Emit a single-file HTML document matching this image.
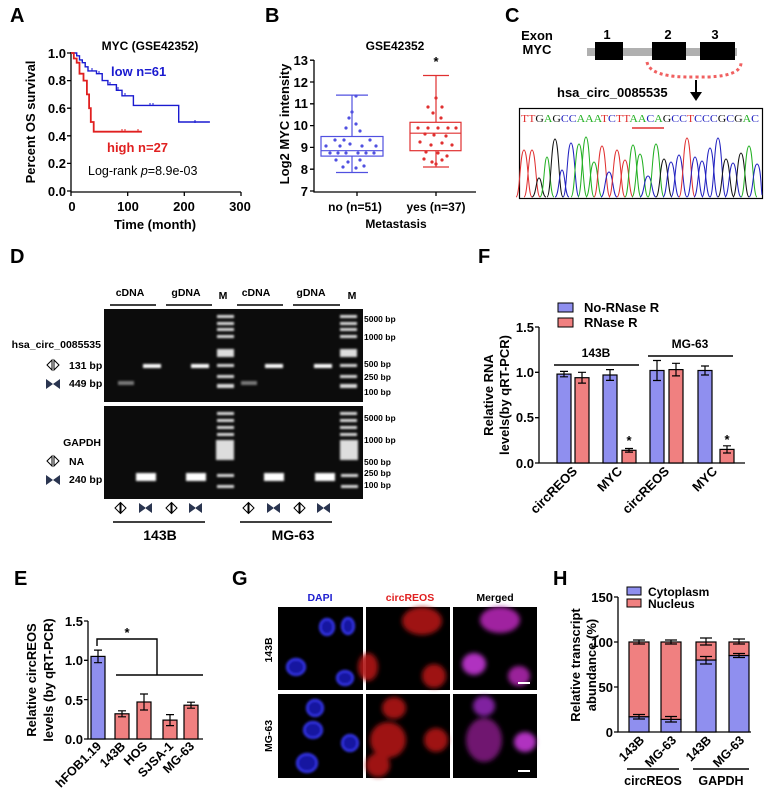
<!DOCTYPE html>
<html><head><meta charset="utf-8"><style>
body{margin:0;background:#fff}
svg{display:block;font-family:"Liberation Sans",Arial,sans-serif;font-weight:bold}
</style></head><body>
<svg width="768" height="801" viewBox="0 0 768 801" xmlns="http://www.w3.org/2000/svg">
<defs>
<filter id="bl"><feGaussianBlur stdDeviation="1"/></filter>
<filter id="bl2"><feGaussianBlur stdDeviation="2.5"/></filter>
<filter id="bl3"><feGaussianBlur stdDeviation="1.3"/></filter>
</defs>
<rect width="768" height="801" fill="#fff"/>
<g font-size="20" fill="#000">
<text x="10" y="22">A</text><text x="265" y="22">B</text><text x="505" y="22">C</text>
<text x="10" y="263">D</text><text x="478" y="263">F</text>
<text x="14" y="585">E</text><text x="232" y="585">G</text><text x="553" y="585">H</text>
</g>

<!-- Panel A -->
<g stroke="#000" stroke-width="1.3" fill="none">
<path d="M71 52 V192 H241"/>
<path d="M67 53H71M67 80.6H71M67 108.2H71M67 135.8H71M67 163.4H71M67 191H71"/>
<path d="M71 192v4M127.7 192v4M184.3 192v4M241 192v4"/>
</g>
<g font-size="13" text-anchor="end"><text x="66" y="58">1.0</text><text x="66" y="85">0.8</text><text x="66" y="113">0.6</text><text x="66" y="141">0.4</text><text x="66" y="168">0.2</text><text x="66" y="196">0.0</text></g>
<g font-size="13" text-anchor="middle"><text x="72" y="211">0</text><text x="128" y="211">100</text><text x="184" y="211">200</text><text x="240" y="211">300</text>
<text x="155" y="229">Time (month)</text><text x="150" y="50" font-size="12">MYC  (GSE42352)</text></g>
<text font-size="13" text-anchor="middle" transform="translate(35,122) rotate(-90)">Percent OS survival</text>
<path d="M71 53 H76.7 V55.8 H79.5 V59.9 H82.3 V62.7 H85.2 V66.8 H88 V70.9 H96.5 V73.7 H102.2 V80.6 H107.9 V84.7 H116.4 V90.3 H122 V95.8 H133.4 V105.4 H178.7 V122 H209.9" stroke="#1a1ad0" stroke-width="1.4" fill="none"/>
<path d="M92 68v3M99 71v3M110 82v3M118 87v3M125 93v3M150 103v3M153 103v3M195 120v3" stroke="#1a1ad0" stroke-width="1"/>
<path d="M71 53 H73.8 V58.5 H76.7 V62.7 H79.5 V73.7 H83.5 V80.6 H86.9 V94.4 H89.1 V108.2 H90.8 V122 H93.7 V131.7 H141.9" stroke="#e02020" stroke-width="1.8" fill="none"/>
<path d="M122 129v3M125 129v3M138 129v3" stroke="#e02020" stroke-width="1"/>
<text x="111" y="76" font-size="13" fill="#1a1ad0">low  n=61</text>
<text x="107" y="152" font-size="13" fill="#e02020">high  n=27</text>
<text x="88" y="175" font-size="12.5" font-weight="normal">Log-rank <tspan font-style="italic">p</tspan>=8.9e-03</text>

<!-- Panel B -->
<g stroke="#000" stroke-width="1.3" fill="none">
<path d="M314 60 V192 H476"/>
<path d="M310 60.2H314M310 82H314M310 103.8H314M310 125.6H314M310 147.4H314M310 169.2H314M310 191H314"/>
<path d="M357 192v4M436 192v4"/>
</g>
<g font-size="13" text-anchor="end"><text x="308" y="65">13</text><text x="308" y="87">12</text><text x="308" y="108">11</text><text x="308" y="130">10</text><text x="308" y="152">9</text><text x="308" y="174">8</text><text x="308" y="196">7</text></g>
<g font-size="12" text-anchor="middle"><text x="355" y="211">no (n=51)</text><text x="436" y="211">yes (n=37)</text><text x="396" y="228">Metastasis</text><text x="395" y="50">GSE42352</text><text x="436" y="66" font-size="13">*</text></g>
<text font-size="13" text-anchor="middle" transform="translate(289,124) rotate(-90)">Log2 MYC intensity</text>
<g stroke="#5050e0" stroke-width="1.2" fill="none">
<rect x="321" y="136.5" width="62" height="19.6"/><path d="M321 150.7H383M352 136.5V95.1M352 156.1V172.5M336 95.1H368M336 172.5H368"/>
</g>
<g fill="#5050e0">
<circle cx="356" cy="96" r="1.6"/><circle cx="352" cy="112" r="1.6"/><circle cx="349" cy="118" r="1.6"/><circle cx="356" cy="124" r="1.6"/><circle cx="346" cy="128" r="1.6"/><circle cx="360" cy="131" r="1.6"/><circle cx="335" cy="140" r="1.6"/><circle cx="344" cy="140" r="1.6"/><circle cx="370" cy="140" r="1.6"/><circle cx="326" cy="146" r="1.6"/><circle cx="340" cy="146" r="1.6"/><circle cx="350" cy="144" r="1.6"/><circle cx="362" cy="146" r="1.6"/><circle cx="376" cy="146" r="1.6"/><circle cx="330" cy="153" r="1.6"/><circle cx="338" cy="153" r="1.6"/><circle cx="346" cy="153" r="1.6"/><circle cx="358" cy="153" r="1.6"/><circle cx="366" cy="153" r="1.6"/><circle cx="374" cy="153" r="1.6"/><circle cx="336" cy="160" r="1.6"/><circle cx="348" cy="162" r="1.6"/><circle cx="360" cy="160" r="1.6"/><circle cx="343" cy="167" r="1.6"/><circle cx="356" cy="168" r="1.6"/><circle cx="364" cy="166" r="1.6"/>
</g>
<g stroke="#e03030" stroke-width="1.2" fill="none">
<rect x="410" y="122.3" width="51" height="28.4"/><path d="M410 133.2H461M436 122.3V75.5M436 150.7V167M423 75.5H449M423 167H449"/>
</g>
<g fill="#e03030">
<circle cx="436" cy="98" r="1.6"/><circle cx="428" cy="107" r="1.6"/><circle cx="442" cy="107" r="1.6"/><circle cx="433" cy="113" r="1.6"/><circle cx="441" cy="118" r="1.6"/><circle cx="418" cy="128" r="1.6"/><circle cx="428" cy="128" r="1.6"/><circle cx="438" cy="128" r="1.6"/><circle cx="448" cy="128" r="1.6"/><circle cx="456" cy="128" r="1.6"/><circle cx="425" cy="134" r="1.6"/><circle cx="434" cy="135" r="1.6"/><circle cx="446" cy="136" r="1.6"/><circle cx="420" cy="142" r="1.6"/><circle cx="431" cy="145" r="1.6"/><circle cx="442" cy="143" r="1.6"/><circle cx="452" cy="145" r="1.6"/><circle cx="426" cy="152" r="1.6"/><circle cx="438" cy="153" r="1.6"/><circle cx="447" cy="156" r="1.6"/><circle cx="424" cy="159" r="1.6"/><circle cx="432" cy="162" r="1.6"/><circle cx="436" cy="164" r="1.6"/><circle cx="442" cy="160" r="1.6"/>
</g>

<!-- Panel C -->
<text x="537" y="40" font-size="13" text-anchor="middle">Exon</text>
<text x="537" y="54" font-size="13" text-anchor="middle">MYC</text>
<rect x="587" y="48" width="150" height="8" fill="#b0b0b0"/>
<rect x="595" y="42" width="28" height="18" fill="#000"/><rect x="652" y="42" width="34" height="18" fill="#000"/><rect x="700" y="42" width="35" height="18" fill="#000"/>
<g font-size="13" text-anchor="middle"><text x="607" y="39">1</text><text x="668" y="39">2</text><text x="715" y="39">3</text></g>
<path d="M647 62 Q650 78 696 77 Q742 78 741 62" stroke="#f06060" stroke-width="3" stroke-dasharray="3,3" fill="none"/>
<path d="M696 80 V95" stroke="#000" stroke-width="2"/><path d="M690 92 L696 101 L702 92 Z" fill="#000"/>
<text x="557" y="97" font-size="13">hsa_circ_0085535</text>
<rect x="519.5" y="108.5" width="243" height="90" fill="#fff" stroke="#000" stroke-width="1.2"/>
<text x="521" y="122" font-family="Liberation Serif,serif" font-weight="normal" font-size="10.3" textLength="238" lengthAdjust="spacingAndGlyphs"><tspan fill="#e03030">TT</tspan><tspan fill="#111">G</tspan><tspan fill="#22b022">A</tspan><tspan fill="#111">G</tspan><tspan fill="#2020c0">CC</tspan><tspan fill="#22b022">AAA</tspan><tspan fill="#e03030">T</tspan><tspan fill="#2020c0">C</tspan><tspan fill="#e03030">TT</tspan><tspan fill="#22b022">AA</tspan><tspan fill="#2020c0">C</tspan><tspan fill="#22b022">A</tspan><tspan fill="#111">G</tspan><tspan fill="#2020c0">CC</tspan><tspan fill="#e03030">T</tspan><tspan fill="#2020c0">CCC</tspan><tspan fill="#111">G</tspan><tspan fill="#2020c0">C</tspan><tspan fill="#111">G</tspan><tspan fill="#22b022">A</tspan><tspan fill="#2020c0">C</tspan></text>
<path d="M632 128 H664" stroke="#e03030" stroke-width="1.5"/>
<g fill="none" stroke-width="1">
<path d="M516 197 C520 197,520 150,524 150 C528 150,528 197,532 197" stroke="#e03030"/>
<path d="M524 197 C528 197,528 150,532 150 C536 150,536 197,540 197" stroke="#e03030"/>
<path d="M532 197 C536 197,536 178,539 178 C542 178,542 197,546 197" stroke="#111"/>
<path d="M540 197 C544 197,544 157,547 157 C550 157,550 197,554 197" stroke="#22b022"/>
<path d="M547 197 C551 197,551 139,555 139 C559 139,559 197,563 197" stroke="#111"/>
<path d="M555 197 C559 197,559 170,562 170 C565 170,565 197,569 197" stroke="#2020c0"/>
<path d="M563 197 C567 197,567 143,571 143 C575 143,575 197,579 197" stroke="#2020c0"/>
<path d="M571 197 C575 197,575 144,579 144 C583 144,583 197,587 197" stroke="#22b022"/>
<path d="M578 197 C582 197,582 137,586 137 C590 137,590 197,594 197" stroke="#22b022"/>
<path d="M586 197 C590 197,590 162,594 162 C598 162,598 197,602 197" stroke="#22b022"/>
<path d="M594 197 C598 197,598 146,602 146 C606 146,606 197,610 197" stroke="#e03030"/>
<path d="M601 197 C605 197,605 172,609 172 C613 172,613 197,617 197" stroke="#2020c0"/>
<path d="M609 197 C613 197,613 150,617 150 C621 150,621 197,625 197" stroke="#e03030"/>
<path d="M617 197 C621 197,621 160,625 160 C629 160,629 197,633 197" stroke="#e03030"/>
<path d="M625 197 C629 197,629 145,633 145 C637 145,637 197,641 197" stroke="#22b022"/>
<path d="M632 197 C636 197,636 154,640 154 C644 154,644 197,648 197" stroke="#22b022"/>
<path d="M640 197 C644 197,644 176,648 176 C652 176,652 197,656 197" stroke="#2020c0"/>
<path d="M648 197 C652 197,652 144,656 144 C660 144,660 197,664 197" stroke="#22b022"/>
<path d="M656 197 C660 197,660 159,664 159 C668 159,668 197,672 197" stroke="#111"/>
<path d="M663 197 C667 197,667 162,671 162 C675 162,675 197,679 197" stroke="#2020c0"/>
<path d="M671 197 C675 197,675 155,679 155 C683 155,683 197,687 197" stroke="#2020c0"/>
<path d="M679 197 C683 197,683 138,687 138 C691 138,691 197,695 197" stroke="#e03030"/>
<path d="M687 197 C691 197,691 157,695 157 C699 157,699 197,703 197" stroke="#2020c0"/>
<path d="M694 197 C698 197,698 161,702 161 C706 161,706 197,710 197" stroke="#2020c0"/>
<path d="M702 197 C706 197,706 148,710 148 C714 148,714 197,718 197" stroke="#2020c0"/>
<path d="M710 197 C714 197,714 138,718 138 C722 138,722 197,726 197" stroke="#2020c0"/>
<path d="M718 197 C722 197,722 159,726 159 C730 159,730 197,734 197" stroke="#111"/>
<path d="M725 197 C729 197,729 163,733 163 C737 163,737 197,741 197" stroke="#2020c0"/>
<path d="M733 197 C737 197,737 153,741 153 C745 153,745 197,749 197" stroke="#111"/>
<path d="M741 197 C745 197,745 146,749 146 C753 146,753 197,757 197" stroke="#22b022"/>
<path d="M749 197 C753 197,753 164,757 164 C761 164,761 190,762 195" stroke="#2020c0"/>
</g>

<!-- Panel D -->
<g font-size="10.5" text-anchor="middle"><text x="130" y="296">cDNA</text><text x="186" y="296">gDNA</text><text x="223" y="299">M</text><text x="256" y="296">cDNA</text><text x="311" y="296">gDNA</text><text x="352" y="299">M</text></g>
<path d="M110 305H156M166 305H212M237 305H283M293 305H340" stroke="#000" stroke-width="1.5"/>
<rect x="104" y="309" width="259" height="93" fill="#0c0c0c"/>
<rect x="104" y="406" width="259" height="93" fill="#0c0c0c"/>
<g fill="#fff" filter="url(#bl)">
<rect x="118" y="381" width="16" height="4" opacity="0.45"/><rect x="143" y="364" width="18" height="4"/><rect x="191" y="364" width="18" height="4"/>
<rect x="241" y="381" width="16" height="4" opacity="0.45"/><rect x="265" y="364" width="18" height="4"/><rect x="314" y="364" width="18" height="4"/>
<rect x="136" y="473" width="20" height="8"/><rect x="186" y="473" width="20" height="8"/><rect x="264" y="473" width="20" height="8"/><rect x="315" y="473" width="20" height="8"/>
</g>
<g fill="#ddd" filter="url(#bl)">
<rect x="217" y="315" width="17" height="3"/><rect x="217" y="322" width="17" height="3"/><rect x="217" y="328" width="17" height="3"/><rect x="217" y="335" width="17" height="3"/><rect x="217" y="349" width="17" height="8"/><rect x="217" y="364" width="17" height="3"/><rect x="217" y="375" width="17" height="3"/><rect x="217" y="384" width="17" height="4"/>
<rect x="340" y="315" width="17" height="3"/><rect x="340" y="322" width="17" height="3"/><rect x="340" y="328" width="17" height="3"/><rect x="340" y="335" width="17" height="3"/><rect x="340" y="349" width="17" height="8"/><rect x="340" y="364" width="17" height="3"/><rect x="340" y="375" width="17" height="3"/><rect x="340" y="384" width="17" height="4"/>
<rect x="217" y="412" width="17" height="3"/><rect x="217" y="419" width="17" height="3"/><rect x="217" y="426" width="17" height="3"/><rect x="217" y="433" width="17" height="3"/><rect x="216" y="440" width="18" height="20"/><rect x="217" y="474" width="17" height="3"/><rect x="217" y="485" width="17" height="3"/>
<rect x="340" y="412" width="17" height="3"/><rect x="340" y="419" width="17" height="3"/><rect x="340" y="426" width="17" height="3"/><rect x="340" y="433" width="17" height="3"/><rect x="340" y="440" width="18" height="20"/><rect x="341" y="474" width="17" height="3"/><rect x="341" y="485" width="17" height="3"/>
</g>
<g font-size="8.5"><text x="364" y="322">5000 bp</text><text x="364" y="340">1000 bp</text><text x="364" y="367">500 bp</text><text x="364" y="380">250 bp</text><text x="364" y="395">100 bp</text>
<text x="364" y="421">5000 bp</text><text x="364" y="443">1000 bp</text><text x="364" y="465">500 bp</text><text x="364" y="476">250 bp</text><text x="364" y="488">100 bp</text></g>
<g font-size="10.5" text-anchor="end"><text x="101" y="348">hsa_circ_0085535</text><text x="101" y="446">GAPDH</text></g>
<g font-size="10.5"><text x="69" y="369">131 bp</text><text x="69" y="387">449 bp</text><text x="69" y="465">NA</text><text x="69" y="483">240 bp</text></g>
<g fill="none" stroke="#000" stroke-width="1"><path d="M47 365 l5 -5 v10 Z M59 365 l-5 -5 v10 Z"/></g>
<g fill="#2a3550"><path d="M46 379 l7 5 l-7 5 Z M60 379 l-7 5 l7 5 Z"/></g>
<g fill="none" stroke="#000" stroke-width="1"><path d="M47 461 l5 -5 v10 Z M59 461 l-5 -5 v10 Z"/></g>
<g fill="#2a3550"><path d="M46 475 l7 5 l-7 5 Z M60 475 l-7 5 l7 5 Z"/></g>
<g fill="none" stroke="#000" stroke-width="1">
<path d="M115 508 l5 -5 v10 Z M126 508 l-5 -5 v10 Z"/><path d="M166 508 l5 -5 v10 Z M177 508 l-5 -5 v10 Z"/>
<path d="M243 508 l5 -5 v10 Z M254 508 l-5 -5 v10 Z"/><path d="M294 508 l5 -5 v10 Z M305 508 l-5 -5 v10 Z"/>
</g>
<g fill="#2a3550">
<path d="M139 503 l7 5 l-7 5 Z M152 503 l-7 5 l7 5 Z"/><path d="M189 503 l7 5 l-7 5 Z M202 503 l-7 5 l7 5 Z"/>
<path d="M267 503 l7 5 l-7 5 Z M280 503 l-7 5 l7 5 Z"/><path d="M317 503 l7 5 l-7 5 Z M330 503 l-7 5 l7 5 Z"/>
</g>
<path d="M113 522H205M240 522H332" stroke="#000" stroke-width="1.5"/>
<g font-size="14" text-anchor="middle"><text x="160" y="540">143B</text><text x="293" y="540">MG-63</text></g>

<!-- Panel F -->
<rect x="558" y="303" width="15" height="9" fill="#8f8fef" stroke="#000"/><rect x="558" y="318" width="15" height="9" fill="#f08080" stroke="#000"/>
<text x="584" y="312" font-size="13">No-RNase R</text><text x="584" y="327" font-size="13">RNase R</text>
<g stroke="#000" stroke-width="1.3" fill="none"><path d="M539 327 V463 H745"/><path d="M535 327H539M535 372.3H539M535 417.7H539M535 463H539"/></g>
<g font-size="13" text-anchor="end"><text x="534" y="332">1.5</text><text x="534" y="377">1.0</text><text x="534" y="422">0.5</text><text x="534" y="468">0.0</text></g>
<text font-size="13" text-anchor="middle" transform="translate(493,395) rotate(-90)">Relative RNA</text>
<text font-size="13" text-anchor="middle" transform="translate(509,395) rotate(-90)">levels(by qRT-PCR)</text>
<g stroke="#000" stroke-width="1.2">
<rect x="557" y="374.1" width="14" height="88.9" fill="#8f8fef"/><rect x="575" y="377.7" width="14" height="85.3" fill="#f08080"/>
<rect x="603" y="375" width="14" height="88" fill="#8f8fef"/><rect x="622" y="450.3" width="14" height="12.7" fill="#f08080"/>
<rect x="650" y="370.5" width="14" height="92.5" fill="#8f8fef"/><rect x="669" y="369.6" width="14" height="93.4" fill="#f08080"/>
<rect x="698" y="370.5" width="14" height="92.5" fill="#8f8fef"/><rect x="720" y="449.4" width="14" height="13.6" fill="#f08080"/>
<path fill="none" d="M564 371.4V376.8M560 371.4H568M560 376.8H568M582 372.3V383.1M578 372.3H586M578 383.1H586M610 369.6V380.4M606 369.6H614M606 380.4H614M629 448.5V452.1M625 448.5H633M625 452.1H633M657 360.5V380.5M653 360.5H661M653 380.5H661M676 363.3V375.9M672 363.3H680M672 375.9H680M705 366V375M701 366H709M701 375H709M727 445.8V453M723 445.8H731M723 453H731"/>
<path d="M554 365H639M648 356H733" stroke-width="1.5"/>
</g>
<g font-size="12" text-anchor="middle"><text x="596" y="357">143B</text><text x="690" y="348">MG-63</text><text x="629" y="445" font-size="13">*</text><text x="727" y="444" font-size="13">*</text></g>
<g font-size="13" text-anchor="end">
<text transform="translate(578,472) rotate(-45)">circREOS</text><text transform="translate(623,472) rotate(-45)">MYC</text>
<text transform="translate(670,472) rotate(-45)">circREOS</text><text transform="translate(718,472) rotate(-45)">MYC</text>
</g>

<!-- Panel E -->
<g stroke="#000" stroke-width="1.3" fill="none"><path d="M88 621 V739 H203"/><path d="M84 621H88M84 660.3H88M84 699.6H88M84 739H88"/></g>
<g font-size="13" text-anchor="end"><text x="83" y="626">1.5</text><text x="83" y="665">1.0</text><text x="83" y="705">0.5</text><text x="83" y="744">0.0</text></g>
<text font-size="13" text-anchor="middle" transform="translate(36,680) rotate(-90)">Relative circREOS</text>
<text font-size="13" text-anchor="middle" transform="translate(53,680) rotate(-90)">levels (by qRT-PCR)</text>
<g stroke="#000" stroke-width="1.2">
<rect x="91" y="656.4" width="14" height="82.6" fill="#8f8fef"/><rect x="115" y="713.8" width="14" height="25.2" fill="#f08080"/><rect x="137" y="702" width="14" height="37" fill="#f08080"/><rect x="163" y="720.1" width="14" height="18.9" fill="#f08080"/><rect x="184" y="705.2" width="14" height="33.8" fill="#f08080"/>
<path fill="none" d="M98 650.1V662.7M94 650.1H102M94 662.7H102M122 710.8V716.8M118 710.8H126M118 716.8H126M144 694V710M140 694H148M140 710H148M170 714.6V725.6M166 714.6H174M166 725.6H174M191 702.2V708.2M187 702.2H195M187 708.2H195"/>
<path fill="none" stroke-width="1.4" d="M97 646V639H157V675M116 675H203"/>
</g>
<text x="127" y="637" font-size="13" text-anchor="middle">*</text>
<g font-size="12.5" text-anchor="end">
<text transform="translate(102,747) rotate(-45)">hFOB1.19</text><text transform="translate(126,747) rotate(-45)">143B</text><text transform="translate(148,747) rotate(-45)">HOS</text><text transform="translate(174,747) rotate(-45)">SJSA-1</text><text transform="translate(195,747) rotate(-45)">MG-63</text>
</g>

<!-- Panel G -->
<g font-size="10.5" text-anchor="middle"><text x="320" y="601" fill="#2020d0">DAPI</text><text x="410" y="601" fill="#e02020">circREOS</text><text x="495" y="601">Merged</text></g>
<text font-size="10.5" text-anchor="middle" transform="translate(272,650) rotate(-90)">143B</text>
<text font-size="10.5" text-anchor="middle" transform="translate(272,736) rotate(-90)">MG-63</text>
<rect x="278" y="607" width="85" height="83" fill="#000"/><rect x="366" y="607" width="84" height="83" fill="#000"/><rect x="453" y="607" width="84" height="83" fill="#000"/>
<rect x="278" y="694" width="85" height="84" fill="#000"/><rect x="366" y="694" width="84" height="84" fill="#000"/><rect x="453" y="694" width="84" height="84" fill="#000"/>
<g fill="#1818a0" stroke="#3a3aff" stroke-width="2" filter="url(#bl3)">
<ellipse cx="327" cy="627" rx="7" ry="8"/><ellipse cx="348" cy="626" rx="6" ry="8"/><ellipse cx="296" cy="667" rx="9" ry="8"/><ellipse cx="345" cy="678" rx="8" ry="7"/>
<ellipse cx="315" cy="708" rx="8" ry="8"/><ellipse cx="313" cy="730" rx="9" ry="8"/><ellipse cx="350" cy="743" rx="8" ry="8"/><ellipse cx="307" cy="763" rx="10" ry="9"/>
</g>
<g fill="#b01515" filter="url(#bl2)" opacity="0.9">
<ellipse cx="422" cy="621" rx="20" ry="14"/><ellipse cx="368" cy="667" rx="10" ry="14"/><ellipse cx="434" cy="676" rx="12" ry="12"/>
<ellipse cx="394" cy="708" rx="12" ry="11"/><ellipse cx="388" cy="740" rx="18" ry="18"/><ellipse cx="436" cy="740" rx="12" ry="12"/><ellipse cx="378" cy="765" rx="12" ry="12"/>
</g>
<g filter="url(#bl2)">
<ellipse cx="500" cy="620" rx="20" ry="13" fill="#a020a0"/><ellipse cx="474" cy="664" rx="12" ry="11" fill="#b030c0"/><ellipse cx="519" cy="676" rx="11" ry="10" fill="#9a209a"/>
<ellipse cx="484" cy="706" rx="11" ry="10" fill="#8020a0"/><ellipse cx="484" cy="740" rx="18" ry="22" fill="#701870"/><ellipse cx="525" cy="742" rx="11" ry="10" fill="#b030c0"/>
</g>
<path d="M518 683H530M518 771H530" stroke="#fff" stroke-width="2"/>

<!-- Panel H -->
<rect x="627" y="587" width="14" height="8" fill="#8f8fef" stroke="#000"/><rect x="627" y="599" width="14" height="8" fill="#f08080" stroke="#000"/>
<text x="648" y="596" font-size="12">Cytoplasm</text><text x="648" y="608" font-size="12">Nucleus</text>
<g stroke="#000" stroke-width="1.3" fill="none"><path d="M618 597 V732 H751"/><path d="M614 597H618M614 642H618M614 687H618M614 732H618"/></g>
<g font-size="13" text-anchor="end"><text x="613" y="602">150</text><text x="613" y="647">100</text><text x="613" y="692">50</text><text x="613" y="737">0</text></g>
<text font-size="13" text-anchor="middle" transform="translate(580,665) rotate(-90)">Relative transcript</text>
<text font-size="13" text-anchor="middle" transform="translate(596,665) rotate(-90)">abundance (%)</text>
<g stroke="#000" stroke-width="1.2">
<rect x="629" y="716.7" width="20" height="15.3" fill="#8f8fef"/><rect x="629" y="642" width="20" height="74.7" fill="#f08080"/>
<rect x="661" y="719.4" width="20" height="12.6" fill="#8f8fef"/><rect x="661" y="642" width="20" height="77.4" fill="#f08080"/>
<rect x="696" y="660" width="20" height="72" fill="#8f8fef"/><rect x="696" y="642" width="20" height="18" fill="#f08080"/>
<rect x="729" y="655.5" width="20" height="76.5" fill="#8f8fef"/><rect x="729" y="642" width="20" height="13.5" fill="#f08080"/>
<path fill="none" d="M633 640H645M633 644H645M639 640V644M633 714.5H645M633 719H645M639 714.5V719M665 640H677M665 644H677M671 640V644M665 716.5H677M665 722H677M671 716.5V722M700 638H712M700 645H712M706 638V645M700 656.5H712M700 664H712M706 656.5V664M733 639H745M733 644H745M739 639V644M733 653.5H745M733 657.5H745M739 653.5V657.5"/>
<path d="M627 769H679M693 769H749" stroke-width="1.5"/>
</g>
<g font-size="12.5" text-anchor="end">
<text transform="translate(645,741) rotate(-45)">143B</text><text transform="translate(677,741) rotate(-45)">MG-63</text>
<text transform="translate(712,741) rotate(-45)">143B</text><text transform="translate(745,741) rotate(-45)">MG-63</text>
</g>
<g font-size="12.5" text-anchor="middle"><text x="653" y="785">circREOS</text><text x="721" y="785">GAPDH</text></g>
</svg>
</body></html>
